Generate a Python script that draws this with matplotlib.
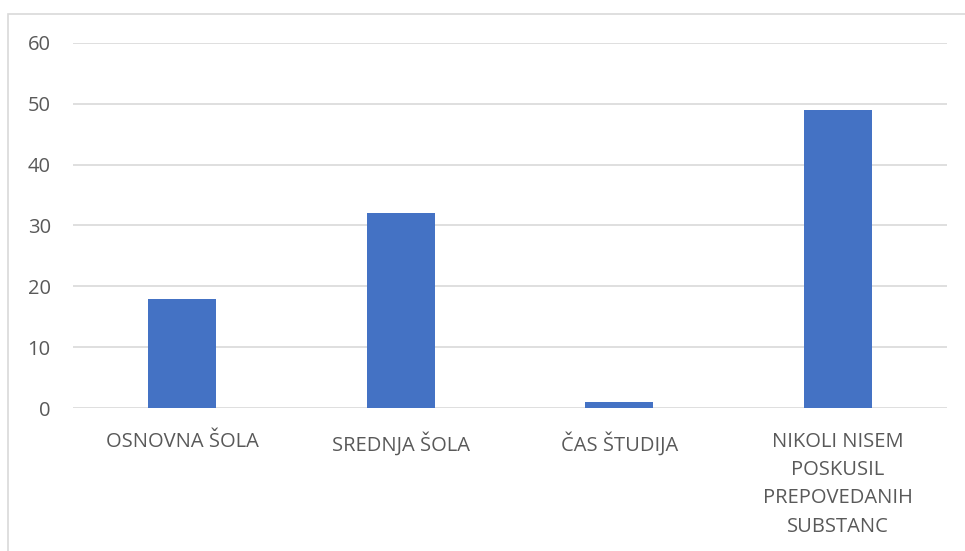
import matplotlib
matplotlib.use("Agg")
import matplotlib.pyplot as plt
from matplotlib.patches import Rectangle

categories = ["OSNOVNA ŠOLA", "SREDNJA ŠOLA", "ČAS ŠTUDIJA",
              "NIKOLI NISEM\nPOSKUSIL\nPREPOVEDANIH\nSUBSTANC"]
values = [18, 32, 1, 49]
y_ticks = [0, 10, 20, 30, 40, 50, 60]

BAR_COLOR = "#4472C4"
TEXT_COLOR = "#595959"
GRID_COLOR = "#D9D9D9"

plt.rcParams["font.family"] = ["Open Sans", "DejaVu Sans"]

fig = plt.figure(figsize=(9.65, 5.51), dpi=100)
ax = fig.add_axes([0.0756, 0.2595, 0.9057, 0.6625])

# chart border, cut off at right and bottom like the source
fig.patches.append(Rectangle((8 / 965, -0.1), 2.0, 1 - 14 / 551 + 0.1,
                             transform=fig.transFigure, fill=False,
                             edgecolor=GRID_COLOR, linewidth=1.2))

x = range(len(categories))
ax.bar(x, values, width=0.31, color=BAR_COLOR, zorder=3)

ax.set_xlim(-0.5, len(categories) - 0.5)
ax.set_ylim(0, 60)
ax.set_yticks(y_ticks)
ax.set_xticks(list(x))
ax.set_xticklabels(categories, linespacing=1.56, va="top")

for s in ax.spines.values():
    s.set_visible(False)
ax.grid(axis="y", color=GRID_COLOR, linewidth=1.2, zorder=0)
ax.tick_params(axis="both", length=0, colors=TEXT_COLOR, labelsize=14.5)
ax.tick_params(axis="y", pad=16)
ax.tick_params(axis="x", pad=17)

fig.savefig("out.png", dpi=100)
